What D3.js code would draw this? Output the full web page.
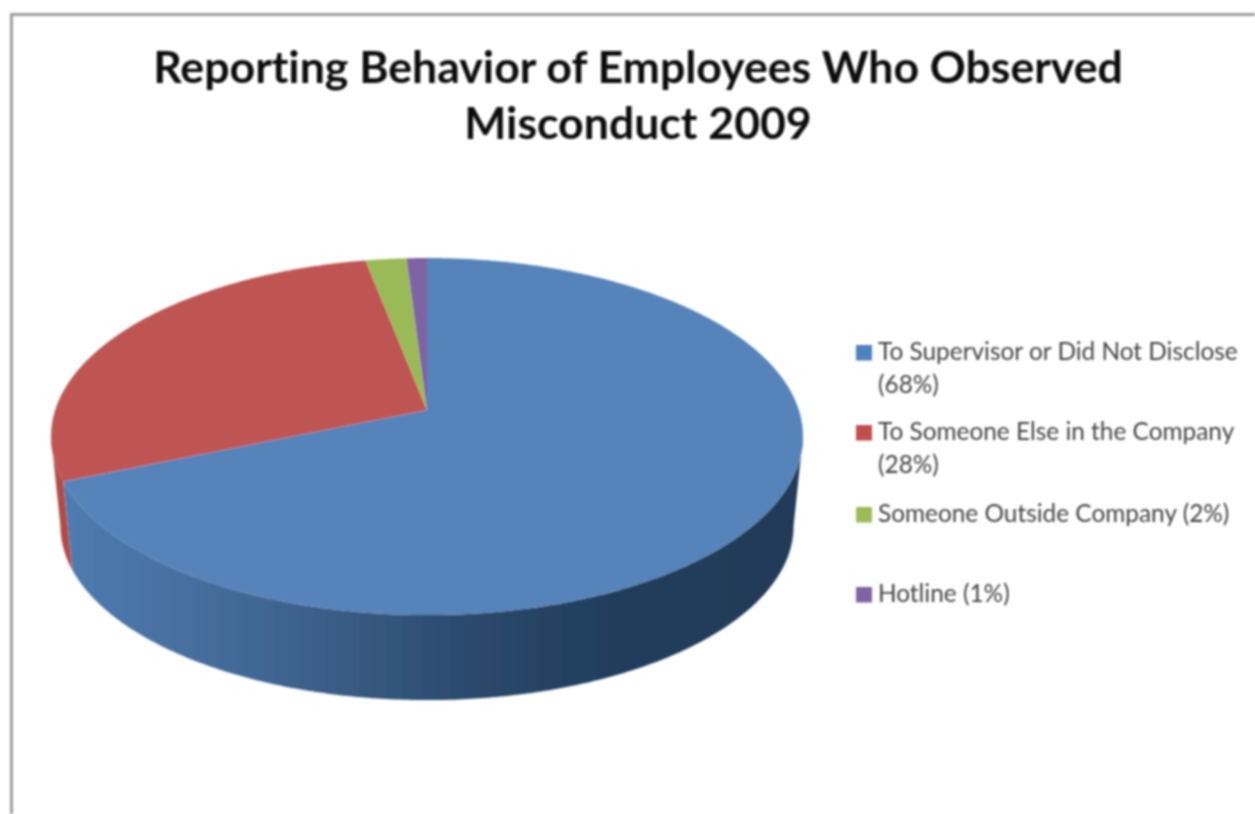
<!DOCTYPE html>
<html><head><meta charset="utf-8">
<script src="https://cdn.jsdelivr.net/npm/d3@7"></script>
<style>html,body{margin:0;padding:0;background:#fff;overflow:hidden}svg{display:block}text{font-variant-ligatures:none;font-feature-settings:"liga" 0}</style>
</head><body><svg id="c" width="1255" height="814"></svg>
<script>
const titleLines = ["Reporting Behavior of Employees Who Observed", "Misconduct 2009"];
const categories = ["To Supervisor or Did Not Disclose", "To Someone Else in the Company", "Someone Outside Company", "Hotline"];
const values = [68, 28, 2, 1];
const legendLines = [["To Supervisor or Did Not Disclose", "(68%)"], ["To Someone Else in the Company", "(28%)"], ["Someone Outside Company (2%)"], ["Hotline (1%)"]];
const topColors = ["#5783b9", "#bf5552", "#9aba59", "#7f62a4"];
const swatchColors = ["#4f81bd", "#c0504d", "#9bbb59", "#8064a2"];

const svg = d3.select("#c");
const defs = svg.append("defs");
defs.append("filter").attr("id", "soft").attr("filterUnits", "userSpaceOnUse")
  .attr("x", 0).attr("y", 0).attr("width", 1255).attr("height", 814)
  .append("feGaussianBlur").attr("stdDeviation", 1);
const sideGrad = defs.append("linearGradient").attr("id", "sideBlue").attr("gradientUnits", "userSpaceOnUse")
  .attr("x1", 60).attr("x2", 800).attr("y1", 0).attr("y2", 0);
[[0, "#4f7cb1"], [0.2, "#456d9c"], [0.4, "#375a82"], [0.55, "#2b4a6d"], [0.75, "#213d5c"], [1, "#203b58"]]
  .forEach(s => sideGrad.append("stop").attr("offset", s[0]).attr("stop-color", s[1]));

const root = svg.append("g").attr("filter", "url(#soft)");

// frame
root.append("path").attr("d", "M11.5,814V14.5H1255").attr("fill", "none").attr("stroke", "#9f9f9f").attr("stroke-width", 3);

// title
root.append("g").selectAll("text").data(titleLines).join("text")
  .attr("x", 638).attr("y", (d, i) => 83 + i * 56)
  .attr("text-anchor", "middle").attr("font-family", "Lato").attr("font-weight", 700)
  .attr("font-size", 44.6).attr("fill", "#0d0d0d").text(d => d);

// perspective projection of the disc
const cx = 427, y0 = 410, k = 0.1486, S = 174.6, R = 371.8;
const proj = a => {
  const u = Math.sin(a), v = Math.cos(a), w = 1 + k * v;
  return [cx + R * u / w, y0 - S * v / w];
};
const midY = 436.5, scaleB = 0.975, midYB = 526;
const projB = a => {
  const p = proj(a);
  return [cx + (p[0] - cx) * scaleB, midYB + (p[1] - midY) * scaleB];
};
const line = d3.line();
const samples = (a0, a1) => {
  const n = Math.max(2, Math.ceil(Math.abs(a1 - a0) / 0.01));
  return d3.range(n + 1).map(i => a0 + (a1 - a0) * i / n);
};

const arcs = d3.pie().sort(null).startAngle(0).endAngle(2 * Math.PI)(values);
const visA = Math.PI - Math.acos(k), visB = Math.PI + Math.acos(k);

// sides
arcs.forEach((d, i) => {
  const a0 = Math.max(d.startAngle, visA), a1 = Math.min(d.endAngle, visB);
  if (a1 <= a0) return;
  const s = samples(a0, a1);
  const pts = s.map(proj).concat(s.slice().reverse().map(projB));
  root.append("path").attr("d", line(pts) + "Z")
    .attr("fill", i === 0 ? "url(#sideBlue)" : "#b14b48");
});
// tops
arcs.forEach((d, i) => {
  const pts = [[cx, y0]].concat(samples(d.startAngle, d.endAngle).map(proj));
  root.append("path").attr("d", line(pts) + "Z").attr("fill", topColors[i]);
});

// legend
const swatchY = [345, 425, 507, 587];
const baseY = [[360, 393], [440, 473], [522], [602]];
const lg = root.append("g");
legendLines.forEach((lines, i) => {
  lg.append("rect").attr("x", 856).attr("y", swatchY[i]).attr("width", 16).attr("height", 15.5).attr("fill", swatchColors[i]);
  lines.forEach((t, j) => {
    lg.append("text").attr("x", 878).attr("y", baseY[i][j]).attr("font-family", "Lato")
      .attr("font-size", 24.4).attr("fill", "#444").text(t);
  });
});
</script></body></html>
